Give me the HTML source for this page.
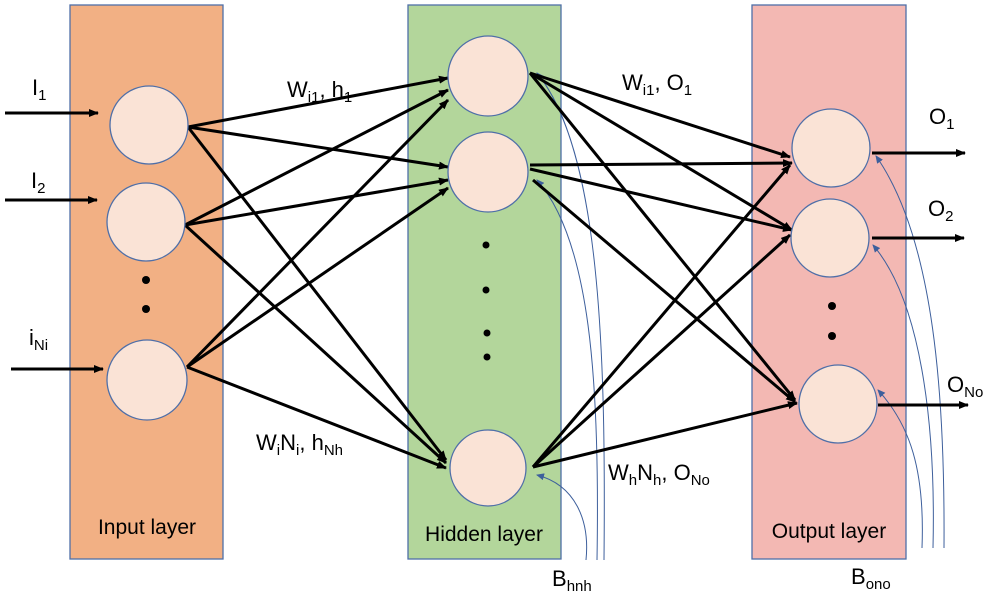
<!DOCTYPE html>
<html><head><meta charset="utf-8"><style>
body{margin:0;background:#fff}
svg{display:block}
text{font-family:"Liberation Sans",sans-serif;fill:#000}
</style></head><body>
<svg width="995" height="600" viewBox="0 0 995 600" xmlns="http://www.w3.org/2000/svg">
<defs>
<marker id="a" markerWidth="10" markerHeight="8" refX="9" refY="4" orient="auto" markerUnits="userSpaceOnUse"><path d="M0,0 L10,4 L0,8 z" fill="#000"/></marker>
<marker id="b" markerWidth="8" markerHeight="7" refX="7" refY="3.5" orient="auto" markerUnits="userSpaceOnUse"><path d="M0,0 L8,3.5 L0,7 z" fill="#3d5f9c"/></marker>
</defs>
<rect x="70" y="5" width="153" height="554" fill="#f2b084" stroke="#4f6fa8" stroke-width="1.3"/>
<rect x="408" y="5" width="153" height="554" fill="#b3d69b" stroke="#4f6fa8" stroke-width="1.3"/>
<rect x="752" y="5" width="154" height="554" fill="#f3b8b3" stroke="#4f6fa8" stroke-width="1.3"/>

<g stroke="#3d5f9c" stroke-width="1" fill="none" marker-end="url(#b)">
<path d="M586,560 C590,520 575,485 537,475"/>
<path d="M597,560 C600,380 590,240 537,180"/>
<path d="M604,560 C606,350 600,150 537,73"/>
<path d="M922,548 C925,470 910,425 878,390"/>
<path d="M933,548 C936,420 920,300 873,245"/>
<path d="M944,548 C945,400 935,240 876,156"/>
</g>

<g stroke="#000" stroke-width="3" fill="none" marker-end="url(#a)">
<line x1="5" y1="113" x2="98" y2="113"/>
<line x1="5" y1="200" x2="97" y2="200"/>
<line x1="11" y1="369" x2="103" y2="369"/>
<line x1="188" y1="127" x2="448" y2="78"/>
<line x1="188" y1="127" x2="448" y2="167"/>
<line x1="188" y1="127" x2="446" y2="460"/>
<line x1="185" y1="225" x2="448" y2="90"/>
<line x1="185" y1="225" x2="448" y2="180"/>
<line x1="185" y1="225" x2="446" y2="463"/>
<line x1="187" y1="367" x2="448" y2="100"/>
<line x1="187" y1="367" x2="448" y2="188"/>
<line x1="187" y1="367" x2="446" y2="468"/>
<line x1="530" y1="73" x2="790" y2="157"/>
<line x1="530" y1="73" x2="792" y2="230"/>
<line x1="530" y1="73" x2="795" y2="400"/>
<line x1="530" y1="165" x2="792" y2="163"/>
<line x1="530" y1="169" x2="792" y2="230"/>
<line x1="533" y1="180" x2="795" y2="402"/>
<line x1="533" y1="467" x2="790" y2="165"/>
<line x1="533" y1="467" x2="790" y2="235"/>
<line x1="533" y1="467" x2="797" y2="403"/>
<line x1="872" y1="153" x2="965" y2="153"/>
<line x1="872" y1="238" x2="964" y2="238"/>
<line x1="878" y1="405" x2="968" y2="405"/>
</g>

<g fill="#fae3d6" stroke="#4f6fa8" stroke-width="1.3">
<circle cx="149" cy="125" r="39"/>
<circle cx="146" cy="222" r="39"/>
<circle cx="147" cy="380" r="40"/>
<circle cx="488" cy="76" r="40"/>
<circle cx="488" cy="172" r="40"/>
<circle cx="488" cy="468" r="38"/>
<circle cx="831" cy="148" r="39"/>
<circle cx="830" cy="238" r="39"/>
<circle cx="838" cy="404" r="39"/>
</g>
<g fill="#000">
<circle cx="146" cy="280" r="4"/><circle cx="146" cy="309" r="4"/>
<circle cx="486" cy="245" r="3.5"/><circle cx="486" cy="290" r="3.5"/><circle cx="487" cy="333" r="3.5"/><circle cx="487" cy="357" r="3.5"/>
<circle cx="832" cy="306" r="4"/><circle cx="832" cy="336" r="4"/>
</g>

<g font-size="22">
<text x="32" y="95">I<tspan font-size="15" dy="5">1</tspan></text>
<text x="31" y="188">I<tspan font-size="15" dy="5">2</tspan></text>
<text x="29" y="345">i<tspan font-size="15" dy="5">Ni</tspan></text>
<text x="287" y="97">W<tspan font-size="15" dy="5">i1</tspan><tspan dy="-5">, h</tspan><tspan font-size="15" dy="5">1</tspan></text>
<text x="256" y="450">W<tspan font-size="15" dy="5">i</tspan><tspan dy="-5">N</tspan><tspan font-size="15" dy="5">i</tspan><tspan dy="-5">, h</tspan><tspan font-size="15" dy="5">Nh</tspan></text>
<text x="622" y="90">W<tspan font-size="15" dy="5">i1</tspan><tspan dy="-5">, O</tspan><tspan font-size="15" dy="5">1</tspan></text>
<text x="608" y="480">W<tspan font-size="15" dy="5">h</tspan><tspan dy="-5">N</tspan><tspan font-size="15" dy="5">h</tspan><tspan dy="-5">, O</tspan><tspan font-size="15" dy="5">No</tspan></text>
<text x="929" y="124">O<tspan font-size="15" dy="5">1</tspan></text>
<text x="928" y="216">O<tspan font-size="15" dy="5">2</tspan></text>
<text x="947" y="392">O<tspan font-size="15" dy="5">No</tspan></text>
<text x="552" y="586">B<tspan font-size="15" dy="5">hnh</tspan></text>
<text x="851" y="584">B<tspan font-size="15" dy="5">ono</tspan></text>
<text x="147" y="534" text-anchor="middle" font-size="21">Input layer</text>
<text x="484" y="541" text-anchor="middle" font-size="21">Hidden layer</text>
<text x="829" y="538" text-anchor="middle" font-size="21">Output layer</text>
</g>
</svg>
</body></html>
